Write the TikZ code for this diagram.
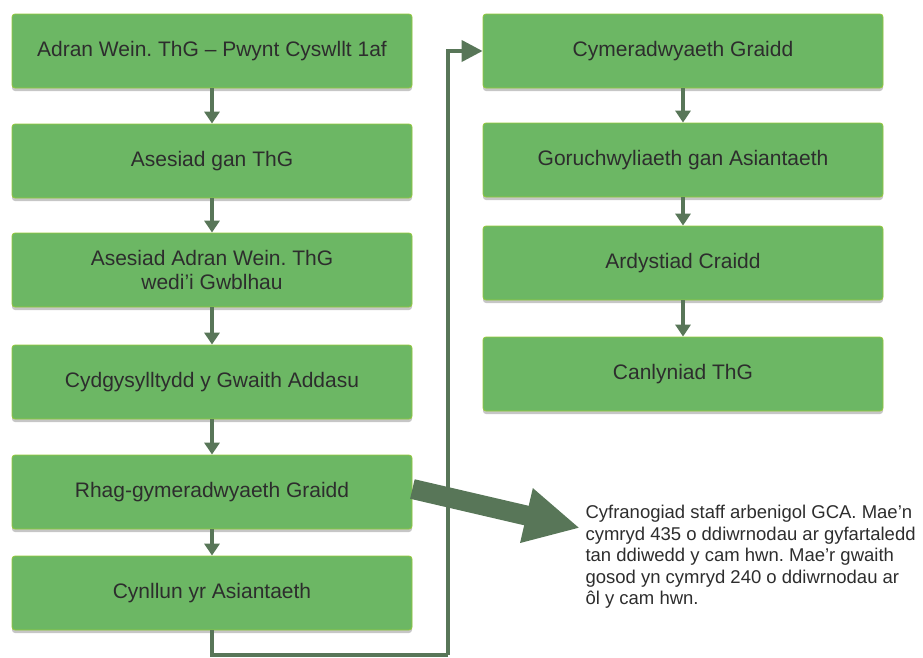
\documentclass[tikz,border=0pt]{standalone}
\usepackage{fontspec}
\setmainfont{Liberation Sans}
\usetikzlibrary{arrows.meta,shadows}
\frenchspacing

\definecolor{boxgreen}{RGB}{108,183,100}
\definecolor{boxedge}{RGB}{150,200,60}
\definecolor{linkgreen}{RGB}{88,118,88}
\definecolor{textgray}{RGB}{45,45,45}

\tikzset{
	stage/.style={rectangle, rounded corners=3pt, fill=boxgreen, draw=boxedge, line width=0.8pt,
		minimum width=400, minimum height=74, inner sep=0pt, align=center, text=textgray,
		font=\fontsize{21}{24}\selectfont,
		drop shadow={shadow xshift=0pt, shadow yshift=-3pt, opacity=0.45, fill=gray}},
	flow/.style={draw=linkgreen, line width=4.5pt, -{Triangle[width=15pt,length=12pt]}},
	link/.style={draw=linkgreen, line width=4pt, -{Triangle[width=21pt,length=21pt]}},
	bigarrow/.style={draw=linkgreen, line width=20pt, -{Triangle[width=52pt,length=55pt]}},
}

\begin{document}
\begin{tikzpicture}[x=1pt,y=-1pt]
\useasboundingbox (0,0) rectangle (923,657);

\foreach[count=\i] \y/\t in {
	51/{Adran Wein. ThG -- Pwynt Cyswllt 1af},
	161/{Asesiad gan ThG},
	270/{Asesiad Adran Wein. ThG\\wedi'i Gwblhau},
	382/{Cydgysylltydd y Gwaith Addasu},
	492/{Rhag-gymeradwyaeth Graidd},
	593/{Cynllun yr Asiantaeth}%
}{
	\node[stage] (b\i) at (212,\y) {\t};
}

\foreach[count=\i] \y/\t in {
	51/{Cymeradwyaeth Graidd},
	160/{Goruchwyliaeth gan Asiantaeth},
	263/{Ardystiad Craidd},
	374/{Canlyniad ThG}%
}{
	\node[stage] (r\i) at (683,\y) {\t};
}

\foreach \u \v in {
	b1/b2,b2/b3,b3/b4,b4/b5,b5/b6%
	,r1/r2,r2/r3,r3/r4%
}{
	\draw[flow] (\u) -- (\v);
}

\coordinate (turn) at (448,655);
\draw[link, -] (b6.south) |- (turn);
\draw[link] (turn) |- (r1.west);

\node[anchor=north west, align=left, text=textgray,
	font=\fontsize{18.5}{21.5}\selectfont] (note) at (582,502)
	{Cyfranogiad staff arbenigol GCA. Mae'n\\cymryd 435 o ddiwrnodau ar gyfartaledd\\tan ddiwedd y cam hwn. Mae'r gwaith\\gosod yn cymryd 240 o ddiwrnodau ar\\ôl y cam hwn.};

\coordinate (tip) at (580,528);
\draw[bigarrow] ([yshift=3pt]b5.east) -- (tip);

\end{tikzpicture}
\end{document}
